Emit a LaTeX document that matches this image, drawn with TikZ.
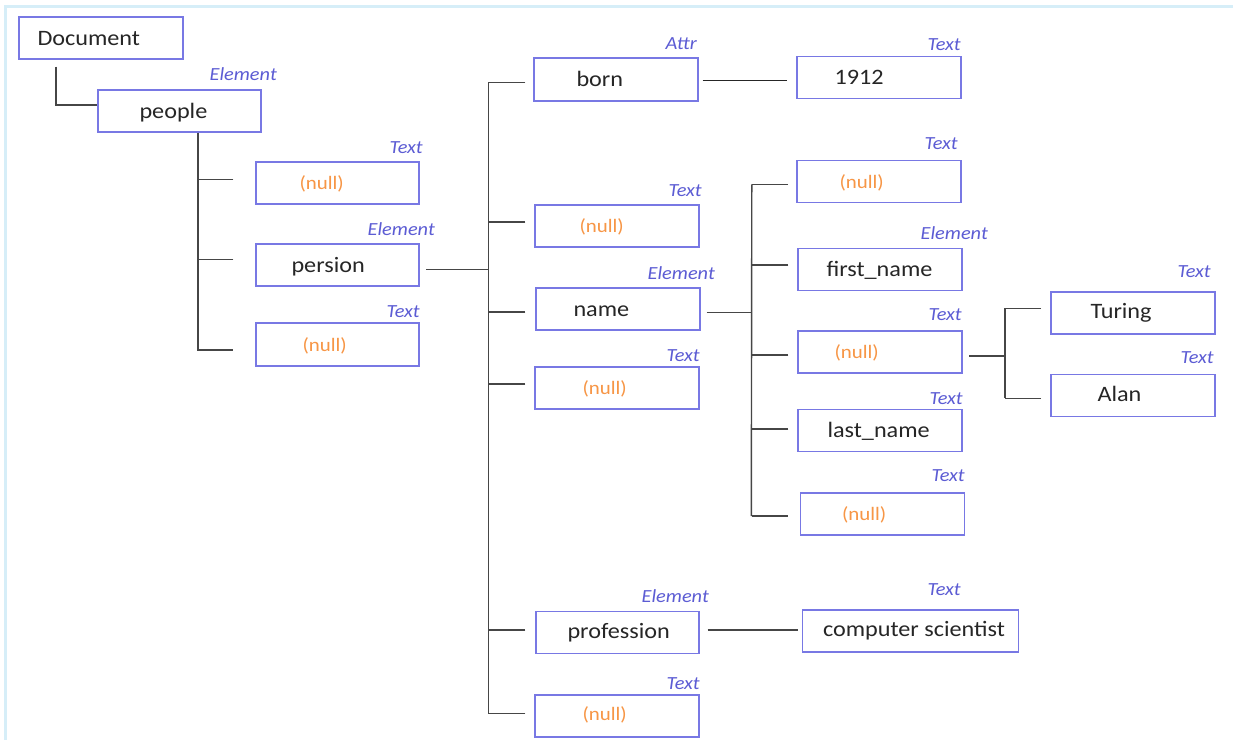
\documentclass[tikz,border=0pt]{standalone}
\usepackage{fontspec}
\setmainfont{Carlito}[FakeStretch=1.1]
\definecolor{boxblue}{RGB}{120,120,228}
\definecolor{typeblue}{RGB}{92,92,212}
\definecolor{nullorange}{RGB}{247,150,70}
\definecolor{wiregray}{RGB}{70,70,70}
\definecolor{framecol}{RGB}{214,238,248}
\definecolor{ink}{RGB}{38,38,38}
\begin{document}
\begin{tikzpicture}[x=1pt,y=-1pt,
  box/.style={draw=boxblue, line width=1.4pt, minimum width=164pt, minimum height=42pt, inner sep=0pt},
  word/.style={anchor=base west, inner sep=0pt, text=ink, font=\fontsize{22}{26}\selectfont},
  nul/.style={anchor=base west, inner sep=0pt, text=nullorange, font=\fontsize{19}{22}\selectfont},
  kind/.style={anchor=base east, inner sep=0pt, text=typeblue, font=\fontsize{18.5}{21}\selectfont\itshape},
  wire/.style={draw=wiregray, line width=1.4pt}]

% canvas and frame
\useasboundingbox (0,0) rectangle (1233,740);
\fill[white] (0,0) rectangle (1233,740);
\draw[framecol, line width=3pt] (5,740) -- (5,6) -- (1233,6);

% ---------- boxes ----------
\node[box] (doc)     at (101,38)      {};
\node[box, minimum width=163pt] (people)  at (179.5,111)  {};
\node[box, minimum width=163pt] (n1)      at (337.5,183)  {};
\node[box, minimum width=163pt] (persion) at (337.5,265)  {};
\node[box, minimum width=163pt, minimum height=43pt] (n2) at (337.5,344.5) {};
\node[box, minimum height=43pt] (born)    at (616,79.5)   {};
\node[box] (n3)      at (617,226)     {};
\node[box] (name)    at (618,309)     {};
\node[box] (n4)      at (617,388)     {};
\node[box, minimum width=163pt] (prof) at (617.5,632.5) {};
\node[box] (n5)      at (617,716)     {};
\node[box] (y1912)   at (879,77.7)    {};
\node[box] (n6)      at (879,181.5)   {};
\node[box] (first)   at (880,269.5)   {};
\node[box] (n7)      at (880,352)     {};
\node[box] (last)    at (880,430.5)   {};
\node[box] (n8)      at (882.5,514)   {};
\node[box] (turing)  at (1133,313)    {};
\node[box] (alan)    at (1133,395.5)  {};
\node[box, minimum width=216pt] (cs) at (910.5,631) {};

% ---------- box texts ----------
\node[word] (tdoc)     at ([xshift=19,yshift=-7]doc.west)     {Document};
\node[word] (tpeople)  at ([xshift=42,yshift=-7]people.west)  {people};
\node[nul]  (tn1)      at ([xshift=44,yshift=-6.5]n1.west)    {(null)};
\node[word] (tpersion) at ([xshift=36,yshift=-7]persion.west) {persion};
\node[nul]  (tn2)      at ([xshift=47,yshift=-6.5]n2.west)    {(null)};
\node[word] (tborn)    at ([xshift=43,yshift=-7]born.west)    {born};
\node[nul]  (tn3)      at ([xshift=45,yshift=-6.5]n3.west)    {(null)};
\node[word] (tname)    at ([xshift=38,yshift=-7]name.west)    {name};
\node[nul]  (tn4)      at ([xshift=48,yshift=-6.5]n4.west)    {(null)};
\node[word] (tprof)    at ([xshift=32,yshift=-6]prof.west)    {profession};
\node[nul]  (tn5)      at ([xshift=48,yshift=-4.5]n5.west)    {(null)};
\node[word] (t1912)    at ([xshift=38,yshift=-6.3]y1912.west) {1912};
\node[nul]  (tn6)      at ([xshift=43,yshift=-6.5]n6.west)    {(null)};
\node[word] (tfirst)   at ([xshift=29,yshift=-7]first.west)   {first\_name};
\node[nul]  (tn7)      at ([xshift=37,yshift=-6.5]n7.west)    {(null)};
\node[word] (tlast)    at ([xshift=30,yshift=-7]last.west)    {last\_name};
\node[nul]  (tn8)      at ([xshift=42,yshift=-6.5]n8.west)    {(null)};
\node[word] (tturing)  at ([xshift=40,yshift=-5]turing.west)  {Turing};
\node[word] (talan)    at ([xshift=47,yshift=-6]alan.west)    {Alan};
\node[word] (tcs)      at ([xshift=21,yshift=-5]cs.west)      {computer scientist};

% ---------- node kinds ----------
\node[kind] (kpeople)  at (277,80)   {Element};
\node[kind] (kn1)      at (423,153)  {Text};
\node[kind] (kpersion) at (435,235)  {Element};
\node[kind] (kn2)      at (420,317)  {Text};
\node[kind] (kborn)    at (697,49)   {Attr};
\node[kind] (kn3)      at (702,196)  {Text};
\node[kind] (kname)    at (715,279)  {Element};
\node[kind] (kn4)      at (700,361)  {Text};
\node[kind] (kprof)    at (709,602)  {Element};
\node[kind] (kn5)      at (700,689)  {Text};
\node[kind] (k1912)    at (961,50)   {Text};
\node[kind] (kn6)      at (958,149)  {Text};
\node[kind] (kfirst)   at (988,239)  {Element};
\node[kind] (kn7)      at (962,320)  {Text};
\node[kind] (klast)    at (963,404)  {Text};
\node[kind] (kn8)      at (965,481)  {Text};
\node[kind] (kturing)  at (1211,277) {Text};
\node[kind] (kalan)    at (1214,363) {Text};
\node[kind] (kcs)      at (961,595)  {Text};

% ---------- connectors ----------
% Document -> people
\draw[wire] ([xshift=-45,yshift=-7]doc.south) |- ([yshift=6]people.west);

% people -> its three children
\coordinate (b1top) at ([xshift=18.5]people.south);
\draw[wire] (b1top) |- ([xshift=-22,yshift=-5.5]n2.west);
\draw[wire] ([xshift=-22,yshift=3.7]n1.west) coordinate (s) -- (s -| b1top);
\draw[wire] ([xshift=-22,yshift=5.7]persion.west) coordinate (s) -- (s -| b1top);

% persion -> its six children
\coordinate (b2top) at ([xshift=-45,yshift=-3]born.west);
\coordinate (b2bot) at ([xshift=-46,yshift=2.7]n5.west);
\draw[wire] (b2top) -- (b2bot);
\draw[wire] ([xshift=6.7,yshift=-4.3]persion.east) coordinate (s) -- (s -| b2top);
\draw[wire] ([xshift=-8,yshift=-3]born.west) coordinate (s) -- (s -| b2top);
\draw[wire] ([xshift=-9,yshift=4]n3.west) coordinate (s) -- (s -| b2top);
\draw[wire] ([xshift=-10,yshift=-3]name.west) coordinate (s) -- (s -| b2top);
\draw[wire] ([xshift=-9,yshift=4]n4.west) coordinate (s) -- (s -| b2top);
\draw[wire] ([xshift=-10,yshift=2.5]prof.west) coordinate (s) -- (s -| b2top);
\draw[wire] ([xshift=-9,yshift=2.7]n5.west) coordinate (s) -- (s -| b2top);

% born -> 1912
\draw[wire, draw=black!85, line width=1.2pt] ([xshift=4,yshift=-1.2]born.east) -- ([xshift=-9,yshift=-3]y1912.west);

% name -> its five children
\coordinate (b3top) at ([xshift=-44.5,yshift=-2.8]n6.west);
\coordinate (b3bot) at ([xshift=-48.5,yshift=-2]n8.west);
\draw[wire] (b3top) -- (b3bot);
\draw[wire] ([xshift=6,yshift=-3.5]name.east) coordinate (s) -- (s -| b3top);
\draw[wire] ([xshift=-8.3,yshift=-2.8]n6.west) coordinate (s) -- (s -| b3top);
\draw[wire] ([xshift=-9,yshift=4.5]first.west) coordinate (s) -- (s -| b3top);
\draw[wire] ([xshift=-9,yshift=-3]n7.west) coordinate (s) -- (s -| b3top);
\draw[wire] ([xshift=-9,yshift=1.5]last.west) coordinate (s) -- (s -| b3top);
\draw[wire] ([xshift=-12,yshift=-2]n8.west) coordinate (s) -- (s -| b3top);

% (null) -> Turing, Alan
\coordinate (b4top) at ([xshift=-45.5,yshift=4.7]turing.west);
\coordinate (b4bot) at ([xshift=-45.5,yshift=-2.8]alan.west);
\draw[wire] (b4top) -- (b4bot);
\draw[wire] ([xshift=6.3,yshift=-4]n7.east) coordinate (s) -- (s -| b4top);
\draw[wire] ([xshift=-9.3,yshift=4.7]turing.west) coordinate (s) -- (s -| b4top);
\draw[wire] ([xshift=-9.3,yshift=-2.8]alan.west) coordinate (s) -- (s -| b4top);

% profession -> computer scientist
\draw[wire] ([xshift=8,yshift=2.5]prof.east) -- ([xshift=-4,yshift=1]cs.west);
\end{tikzpicture}
\end{document}
